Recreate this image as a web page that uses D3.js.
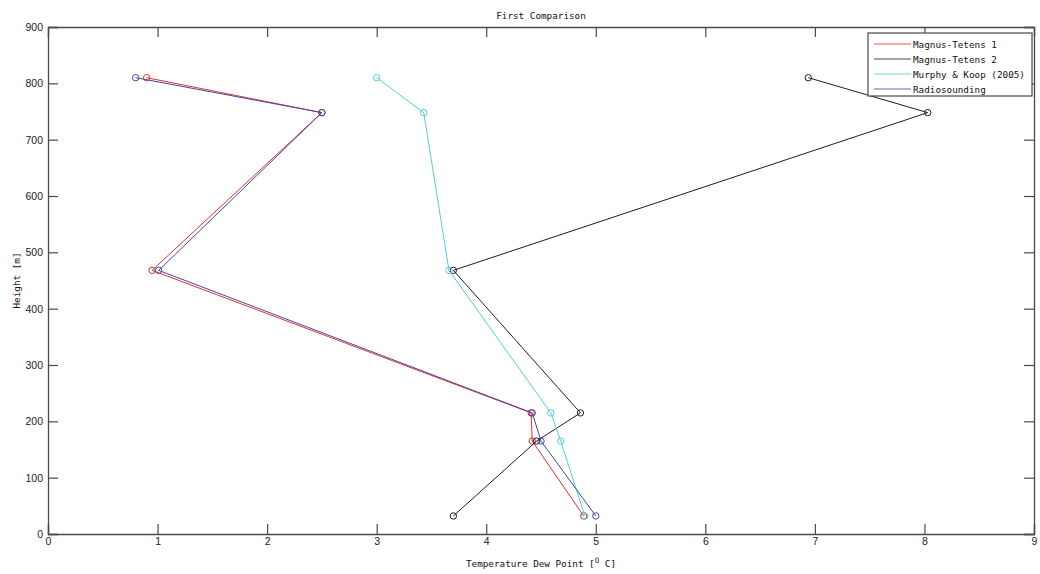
<!DOCTYPE html>
<html>
<head>
<meta charset="utf-8">
<script src="https://cdn.jsdelivr.net/npm/d3@7"></script>
<style>
  html, body { margin: 0; padding: 0; background: #fff; }
  svg { display: block; }
</style>
</head>
<body>
<svg id="chart" width="1040" height="574"></svg>
<script>
// Sounding levels (m) shared by every series
const heights = [810, 748, 468, 215, 165, 32];

// Dew point temperature (°C) per method
const magnusTetens1 = [0.9, 2.5, 0.95, 4.41, 4.42, 4.89];
const magnusTetens2 = [6.94, 8.03, 3.70, 4.86, 4.46, 3.70];
const murphyKoop    = [3.0, 3.43, 3.66, 4.59, 4.68, 4.90];
const radiosounding = [0.8, 2.5, 1.01, 4.42, 4.50, 5.0];

const seriesNames = ["Magnus-Tetens 1", "Magnus-Tetens 2", "Murphy & Koop (2005)", "Radiosounding"];
const seriesColors = ["#e0302f", "#1e1e1e", "#55cdd6", "#4646a8"];
const seriesValues = [magnusTetens1, magnusTetens2, murphyKoop, radiosounding];

const xTicks = [0, 1, 2, 3, 4, 5, 6, 7, 8, 9];
const yTicks = [0, 100, 200, 300, 400, 500, 600, 700, 800, 900];

const svg = d3.select("#chart");
const plotL = 48, plotR = 1034, plotT = 27, plotB = 534;

const x = d3.scaleLinear().domain([0, 9]).range([plotL, plotR]);
const y = d3.scaleLinear().domain([0, 900]).range([plotB, plotT]);

const axisColor = "#4a4a4a";
const tickFont = "'Liberation Sans', Arial, sans-serif";
const monoFont = "'DejaVu Sans Mono', monospace";

// Axes: ticks point inward on all four sides (box on)
const tickLen = 10;
const gB = svg.append("g").attr("transform", `translate(0,${plotB})`)
  .call(d3.axisBottom(x).tickValues(xTicks).tickSize(-tickLen).tickPadding(4).tickFormat(d3.format("d")));
const gT = svg.append("g").attr("transform", `translate(0,${plotT})`)
  .call(d3.axisTop(x).tickValues(xTicks).tickSize(-tickLen).tickFormat(""));
const gL = svg.append("g").attr("transform", `translate(${plotL},0)`)
  .call(d3.axisLeft(y).tickValues(yTicks).tickSize(-tickLen).tickPadding(5).tickFormat(d3.format("d")));
const gR = svg.append("g").attr("transform", `translate(${plotR},0)`)
  .call(d3.axisRight(y).tickValues(yTicks).tickSize(-tickLen).tickFormat(""));

[gB, gT, gL, gR].forEach(g => {
  g.select(".domain").attr("stroke", axisColor).attr("stroke-width", 1.3);
  g.selectAll(".tick line").attr("stroke", axisColor).attr("stroke-width", 1.2);
  g.selectAll(".tick text").attr("fill", "#222").style("font-family", tickFont).style("font-size", "10.5px");
});

// Data lines with open circle markers
const line = d3.line().x(d => x(d.t)).y(d => y(d.h));
seriesValues.forEach((vals, i) => {
  const pts = vals.map((t, k) => ({ t, h: heights[k] }));
  const g = svg.append("g");
  g.append("path").datum(pts)
    .attr("d", line)
    .attr("fill", "none")
    .attr("stroke", seriesColors[i])
    .attr("stroke-width", 1);
  g.selectAll("circle").data(pts).enter().append("circle")
    .attr("cx", d => x(d.t))
    .attr("cy", d => y(d.h))
    .attr("r", 3.2)
    .attr("fill", "none")
    .attr("stroke", seriesColors[i])
    .attr("stroke-width", 1);
});

// Title and axis labels
svg.append("text")
  .attr("x", (plotL + plotR) / 2).attr("y", 19)
  .attr("text-anchor", "middle")
  .style("font-family", monoFont).style("font-size", "9.3px").attr("fill", "#111")
  .text("First Comparison");

const xl = svg.append("text")
  .attr("x", (plotL + plotR) / 2).attr("y", 567)
  .attr("text-anchor", "middle")
  .style("font-family", monoFont).style("font-size", "9.3px").attr("fill", "#111");
xl.append("tspan").text("Temperature Dew Point [");
xl.append("tspan").attr("dy", -4).style("font-size", "7.5px").text("O");
xl.append("tspan").attr("dy", 4).text(" C]");

svg.append("text")
  .attr("transform", `translate(20,${(plotT + plotB) / 2}) rotate(-90)`)
  .attr("text-anchor", "middle")
  .style("font-family", monoFont).style("font-size", "9.3px").attr("fill", "#111")
  .text("Height [m]");

// Legend
const lgX = 868, lgY = 33, lgW = 164, lgH = 63;
const lg = svg.append("g");
lg.append("rect")
  .attr("x", lgX).attr("y", lgY).attr("width", lgW).attr("height", lgH)
  .attr("fill", "#fff").attr("stroke", axisColor).attr("stroke-width", 1.2);
seriesNames.forEach((name, i) => {
  const cy = lgY + 11 + i * 15;
  lg.append("line")
    .attr("x1", lgX + 6).attr("x2", lgX + 43)
    .attr("y1", cy).attr("y2", cy)
    .attr("stroke", seriesColors[i]).attr("stroke-width", 1.2).attr("opacity", 0.8);
  lg.append("text")
    .attr("x", lgX + 45).attr("y", cy + 3.5)
    .style("font-family", monoFont).style("font-size", "9.3px").attr("fill", "#111")
    .text(name);
});
</script>
</body>
</html>
